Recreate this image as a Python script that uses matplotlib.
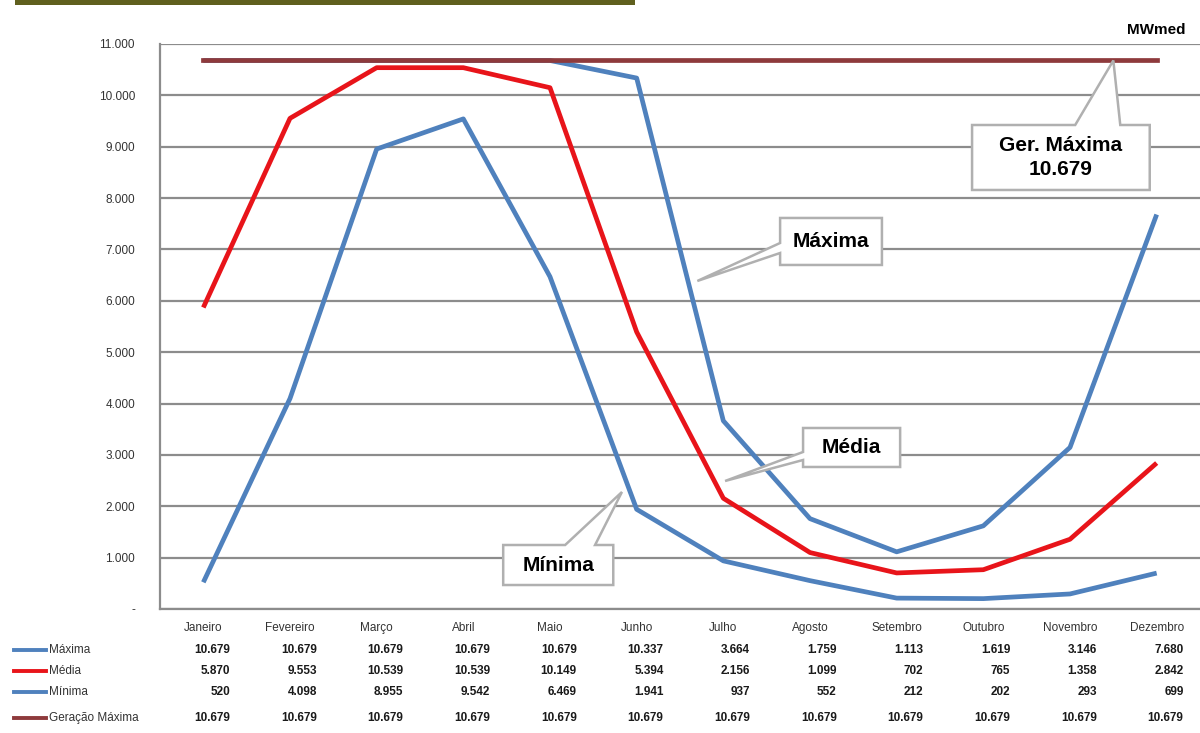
import matplotlib.pyplot as plt
from matplotlib.lines import Line2D
from matplotlib.patches import Rectangle, Polygon
import matplotlib.transforms as mtransforms

meses = ['Janeiro', 'Fevereiro', 'Março', 'Abril', 'Maio', 'Junho',
         'Julho', 'Agosto', 'Setembro', 'Outubro', 'Novembro', 'Dezembro']
maxima = [10679, 10679, 10679, 10679, 10679, 10337, 3664, 1759, 1113, 1619, 3146, 7680]
media = [5870, 9553, 10539, 10539, 10149, 5394, 2156, 1099, 702, 765, 1358, 2842]
minima = [520, 4098, 8955, 9542, 6469, 1941, 937, 552, 212, 202, 293, 699]
ger_maxima = [10679] * 12

AZUL = '#4f81bd'
VERMELHO = '#e8141a'
MARROM = '#8e3a3c'
GRADE = '#8c8c8c'
BORDA = '#b0b0b0'

plt.rcParams['font.family'] = ['Liberation Sans', 'DejaVu Sans']


def fmt(v):
    if v == 0:
        return '-'
    return '{:,}'.format(v).replace(',', '.')


fig = plt.figure(figsize=(12, 7.33), dpi=100)
ax = fig.add_axes([160 / 1200, 1 - 609 / 733, 1 - 160 / 1200, (609 - 44) / 733])

x = range(len(meses))
ax.plot(x, minima, color=AZUL, lw=3.4, solid_capstyle='butt', zorder=3)
ax.plot(x, maxima, color=AZUL, lw=3.4, solid_capstyle='butt', zorder=3)
ax.plot(x, media, color=VERMELHO, lw=3.4, solid_capstyle='butt', zorder=4)
ax.plot(x, ger_maxima, color=MARROM, lw=3.4, zorder=5)

ax.set_xlim(-0.5, 11.5)
ax.set_ylim(0, 11000)
yt = list(range(0, 11001, 1000))
ax.set_yticks(yt)
ax.set_yticklabels([fmt(v) for v in yt], fontsize=8.5, color='#333333')
ax.set_xticks([])
ax.tick_params(axis='y', length=0, pad=18)
ax.yaxis.grid(True, color=GRADE, lw=1.6)
ax.set_axisbelow(True)
for s in ['top', 'right']:
    ax.spines[s].set_visible(False)
for s in ['left', 'bottom']:
    ax.spines[s].set_color(GRADE)
    ax.spines[s].set_linewidth(1.6)


# balões: caixa (x0, x1, y0, y1), lado do ponteiro, base do ponteiro e ponta
def balao(texto, caixa, lado, base, ponta):
    x0, x1, y0, y1 = caixa
    if lado == 'topo':
        pts = [(x0, y0), (x0, y1), (base[0], y1), ponta, (base[1], y1), (x1, y1), (x1, y0)]
    else:
        pts = [(x0, y0), (x0, base[0]), ponta, (x0, base[1]), (x0, y1), (x1, y1), (x1, y0)]
    ax.add_patch(Polygon(pts, closed=True, fc='white', ec=BORDA, lw=1.8,
                         joinstyle='miter', zorder=6))
    ax.text((x0 + x1) / 2, (y0 + y1) / 2, texto, ha='center', va='center',
            fontsize=15, fontweight='bold', linespacing=1.3, zorder=7)


balao('Ger. Máxima\n10.679', (8.87, 10.92, 8158, 9423), 'topo', (10.06, 10.58), (10.5, 10679))
balao('Máxima', (6.655, 7.83, 6698, 7613), 'esq', (6931, 7126), (5.70, 6386))
balao('Média', (6.92, 8.04, 2765, 3524), 'esq', (2901, 3057), (6.02, 2492))
balao('Mínima', (3.46, 4.73, 467, 1246), 'topo', (4.175, 4.52), (4.83, 2278))

fig.text(1185 / 1200, 1 - 30 / 733, 'MWmed', ha='right', va='center',
         fontsize=11, fontweight='bold')

# faixa do título
fig.patches.append(Rectangle((15 / 1200, 1 - 5 / 733), 620 / 1200, 5 / 733,
                             transform=fig.transFigure, fc='#60601e', ec='none'))

# tabela de dados
trans = mtransforms.blended_transform_factory(ax.transData, fig.transFigure)
y_cab = 1 - 628 / 733
for i, m in enumerate(meses):
    fig.text(i, y_cab, m, transform=trans, ha='center', va='center',
             fontsize=8.5, color='#333333')

linhas = [('Máxima', maxima, AZUL, 650), ('Média', media, VERMELHO, 671),
          ('Mínima', minima, AZUL, 692), ('Geração Máxima', ger_maxima, MARROM, 718)]
for nome, vals, cor, py in linhas:
    yf = 1 - py / 733
    fig.lines.append(Line2D([14 / 1200, 46 / 1200], [yf, yf], color=cor, lw=2.8,
                            transform=fig.transFigure))
    fig.text(49 / 1200, yf, nome, ha='left', va='center', fontsize=8.5, color='#333333')
    for i, v in enumerate(vals):
        fig.text(i + 0.31, yf, fmt(v), transform=trans, ha='right', va='center',
                 fontsize=8.5, fontweight='bold', color='#1a1a1a')

fig.savefig('out.png', dpi=100)
